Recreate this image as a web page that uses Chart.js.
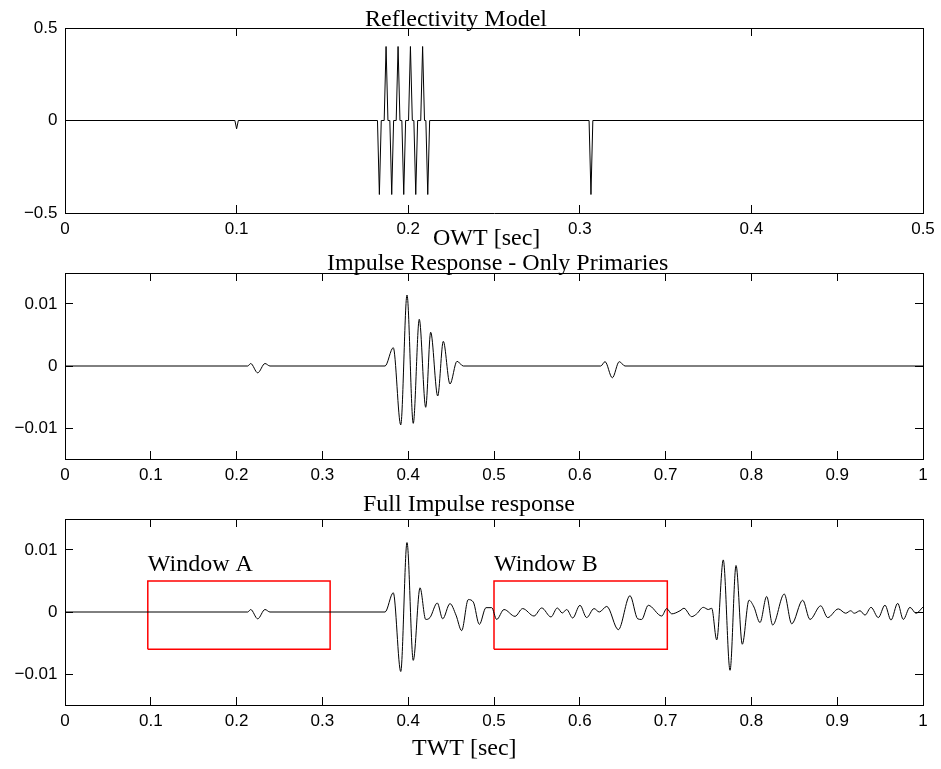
<!DOCTYPE html>
<html>
<head>
<meta charset="utf-8">
<script src="https://cdn.jsdelivr.net/npm/chart.js@4.4.0/dist/chart.umd.min.js"></script>
<style>
  html, body { margin: 0; padding: 0; background: #fff; }
  #wrap { position: relative; width: 941px; height: 769px; }
  #wrap canvas { position: absolute; left: 0; }
</style>
</head>
<body>
<div id="wrap">
  <canvas id="reflChart" width="941" height="250" style="top:0"></canvas>
  <canvas id="primChart" width="941" height="240" style="top:250px"></canvas>
  <canvas id="fullChart" width="941" height="279" style="top:490px"></canvas>
</div>
<script>
// === Reflectivity model (one-way time) ===
const owtTimes = [0, 0.099, 0.1, 0.101,
  0.1821, 0.1832, 0.1843, 0.186, 0.1871, 0.1882,
  0.1893, 0.1904, 0.1915, 0.193, 0.1941, 0.1952,
  0.1963, 0.1974, 0.1985, 0.2002, 0.2013, 0.2024,
  0.2033, 0.2044, 0.2055, 0.2073, 0.2084, 0.2095,
  0.2103, 0.2114, 0.2125,
  0.3054, 0.3065, 0.3076, 0.5];
const reflValues = [0, 0, -0.045, 0,
  0, -0.4, 0, 0, 0.4, 0,
  0, -0.4, 0, 0, 0.4, 0,
  0, -0.4, 0, 0, 0.4, 0,
  0, -0.4, 0, 0, 0.4, 0,
  0, -0.4, 0,
  0, -0.4, 0, 0];
const owtTicks = [0, 0.1, 0.2, 0.3, 0.4, 0.5];
const reflTicks = [-0.5, 0, 0.5];

// === Impulse response, primaries only (two-way time) ===
const primTimes = [0, 0.213, 0.2164, 0.2246, 0.2331, 0.2389,
  0.373, 0.3826, 0.3913, 0.3986, 0.4059, 0.4129, 0.4204, 0.4262,
  0.4344, 0.4409, 0.4487, 0.4569, 0.4642,
  0.6244, 0.6294, 0.6379, 0.646, 0.6527, 1.0];
const primValues = [0, 0, 0.0004, -0.0011, 0.0004, 0,
  0, 0.00295, -0.0095, 0.01145, -0.00925, 0.00753, -0.00666, 0.00544,
  -0.00484, 0.00398, -0.0029, 0.00076, 0,
  0, 0.0007, -0.0019, 0.0007, 0, 0];

// === Full impulse response ===
const fullTimes = [0, 0.213, 0.2164, 0.2246, 0.2331, 0.2389,
  0.373, 0.3826, 0.3913, 0.3986, 0.4059, 0.4138, 0.4204, 0.4254,
  0.4339, 0.4402, 0.4487, 0.4557, 0.4623, 0.47, 0.4759, 0.4829,
  0.4907, 0.4973, 0.5031, 0.5117, 0.5245, 0.5334, 0.5466, 0.5556,
  0.5664, 0.5738, 0.5796, 0.5847, 0.5917, 0.6002, 0.608, 0.6166,
  0.6227, 0.6314, 0.6449, 0.6585, 0.6675, 0.6721, 0.6798, 0.6955,
  0.7013, 0.7071, 0.7168, 0.7214, 0.7304, 0.7362, 0.7439, 0.7498,
  0.7537, 0.7596, 0.7672, 0.7751, 0.7821, 0.7894, 0.7972, 0.803,
  0.81, 0.8178, 0.8248, 0.8383, 0.847, 0.8598, 0.8683, 0.8808,
  0.8889, 0.9013, 0.9099, 0.9157, 0.9199, 0.9266, 0.9324, 0.9394,
  0.9479, 0.9557, 0.9627, 0.9705, 0.977, 0.9848, 0.9918, 1.0];
const fullValues = [0, 0, 0.0004, -0.0011, 0.0004, 0,
  0, 0.0031, -0.0096, 0.0112, -0.0078, 0.0039, -0.0012, -0.0009,
  0.00145, -0.0011, 0.00135, -0.0005, -0.003, 0.002, 0.0016, -0.002,
  0.0007, 0.0007, -0.0012, 0.0004, -0.0007, 0.00055, -0.00065, 0.00065,
  -0.0008, 0.00065, -0.00016, 0.0004, -0.00097, 0.00108, -0.0009, 0.00055,
  0, 0.0009, -0.00285, 0.00263, -0.0011, -0.0012, 0.00108, -0.00065,
  0.00055, -0.0003, 0.0002, 0.0006, -0.00075, -0.0003, 0.00075, 0.0004,
  0.0006, -0.0045, 0.0084, -0.0094, 0.0075, -0.0052, 0.0019, 0.0008,
  -0.0017, 0.0025, -0.0021, 0.0029, -0.0019, 0.0019, -0.0012, 0.001,
  -0.0009, 0.0005, -0.0002, 0.0002, -0.0002, 0.0002, -0.0005, 0.00075,
  -0.0009, 0.0011, -0.0013, 0.0014, -0.0012, 0.00075, -0.0002, 0.0008];

const twtTicks = [0, 0.1, 0.2, 0.3, 0.4, 0.5, 0.6, 0.7, 0.8, 0.9, 1];
const ampTicks = [-0.01, 0, 0.01];

// === Analysis windows ===
const windowNames = ["Window A", "Window B"];
const windowStart = [0.0965, 0.5];
const windowEnd = [0.309, 0.702];
const windowLow = -0.006;
const windowHigh = 0.005;

const SERIF = "24px 'Liberation Serif', 'Times New Roman', serif";

const captionPlugin = {
  id: "captions",
  afterDraw(chart, args, opts) {
    const ctx = chart.ctx;
    ctx.save();
    ctx.fillStyle = "#000";
    ctx.textBaseline = "alphabetic";
    ctx.textAlign = "left";
    ctx.font = SERIF;
    (opts.items || []).forEach((it) => {
      const x = it.xValue !== undefined ? chart.scales.x.getPixelForValue(it.xValue) : it.x;
      ctx.fillText(it.text, x, it.y);
    });
    ctx.restore();
  },
};

function fmt(v) {
  return String(+Number(v).toFixed(4)).replace("-", "\u2212");
}

// fixed box sizes, and no extra room for overhanging labels
function fixSize(w, h) {
  return (s) => {
    if (w !== null) s.width = w;
    if (h !== null) s.height = h;
    s.paddingLeft = 0;
    s.paddingRight = 0;
    s.paddingTop = 0;
    s.paddingBottom = 0;
  };
}

function buildScales(xMin, xMax, xTicks, yMin, yMax, yTicks, xAxisHeight) {
  const tickFont = { family: "'Liberation Sans', Arial, sans-serif", size: 17 };
  const grid = { drawOnChartArea: false, tickLength: -8, color: "#000", tickWidth: 1 };
  const border = { color: "#000", width: 1 };
  const setTicks = (vals) => (scale) => {
    scale.ticks = vals.map((v) => ({ value: v }));
  };
  return {
    x: {
      type: "linear", position: "bottom", min: xMin, max: xMax, grid, border,
      afterBuildTicks: setTicks(xTicks),
      afterFit: fixSize(null, xAxisHeight),
      ticks: { font: tickFont, color: "#000", padding: 14, maxRotation: 0, autoSkip: false, callback: fmt },
    },
    x2: {
      type: "linear", position: "top", min: xMin, max: xMax, grid, border,
      afterBuildTicks: setTicks(xTicks),
      afterFit: fixSize(null, 0),
      ticks: { display: false },
    },
    y: {
      type: "linear", position: "left", min: yMin, max: yMax, grid, border,
      afterBuildTicks: setTicks(yTicks),
      afterFit: fixSize(65, null),
      ticks: { font: tickFont, color: "#000", padding: 15.5, callback: fmt },
    },
    y2: {
      type: "linear", position: "right", min: yMin, max: yMax, grid, border,
      afterBuildTicks: setTicks(yTicks),
      afterFit: fixSize(18, null),
      ticks: { display: false },
    },
  };
}

function traceDataset(times, values, smooth) {
  return {
    data: times.map((t, i) => ({ x: t, y: values[i] })),
    borderColor: "#000",
    borderWidth: 1,
    pointRadius: 0,
    tension: 0,
    cubicInterpolationMode: smooth ? "monotone" : "default",
    fill: false,
  };
}

function makeChart(id, datasets, scales, padTop, captions) {
  return new Chart(document.getElementById(id).getContext("2d"), {
    type: "line",
    data: { datasets },
    options: {
      responsive: false,
      animation: false,
      events: [],
      layout: { padding: { top: padTop, right: 0, bottom: 0, left: 0 } },
      plugins: { legend: { display: false }, tooltip: { enabled: false }, captions: { items: captions } },
      scales,
    },
    plugins: [captionPlugin],
  });
}

// === Panel 1 ===
makeChart(
  "reflChart",
  [traceDataset(owtTimes, reflValues, false)],
  buildScales(0, 0.5, owtTicks, -0.5, 0.5, reflTicks, 37),
  28,
  [
    { text: "Reflectivity Model", x: 365, y: 26 },
    { text: "OWT [sec]", x: 433, y: 245 },
  ]
);

// === Panel 2 ===
makeChart(
  "primChart",
  [traceDataset(primTimes, primValues, true)],
  buildScales(0, 1, twtTicks, -0.015, 0.015, ampTicks, 31),
  23,
  [{ text: "Impulse Response - Only Primaries", x: 327, y: 20 }]
);

// === Panel 3 ===
const windowSets = windowNames.map((name, i) => ({
  label: name,
  data: [
    { x: windowStart[i], y: windowLow },
    { x: windowEnd[i], y: windowLow },
    { x: windowEnd[i], y: windowHigh },
    { x: windowStart[i], y: windowHigh },
    { x: windowStart[i], y: windowLow },
  ],
  borderColor: "#ff0000",
  borderWidth: 1.5,
  pointRadius: 0,
  tension: 0,
  fill: false,
}));

makeChart(
  "fullChart",
  [traceDataset(fullTimes, fullValues, true), ...windowSets],
  buildScales(0, 1, twtTicks, -0.015, 0.015, ampTicks, 64),
  29,
  [
    { text: "Full Impulse response", x: 363, y: 21 },
    { text: "TWT [sec]", x: 412, y: 265 },
    ...windowNames.map((name, i) => ({ text: name, xValue: windowStart[i], y: 81 })),
  ]
);
</script>
</body>
</html>
